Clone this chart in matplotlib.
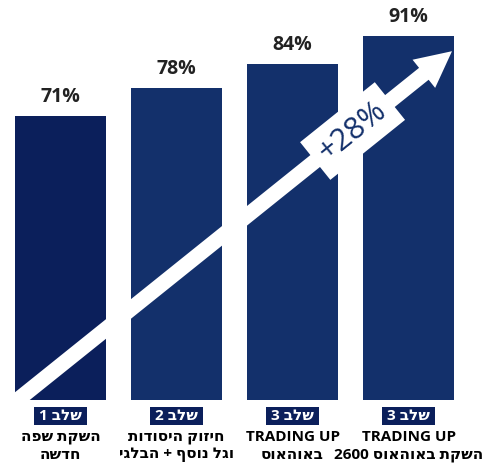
"""Stage-by-stage bar chart with a rising arrow (out.png)."""

import re
import numpy as np
import matplotlib
matplotlib.use("Agg")
import matplotlib.pyplot as plt

NAVY = "#13306b"
NAVY_DARK = "#0b1f5b"
TXT = "#222222"
FONT = ["Open Sans", "DejaVu Sans"]

# data
stages = ["שלב 1", "שלב 2", "שלב 3", "שלב 3"]
line1 = ["השקת שפה", "חיזוק היסודות", "TRADING UP", "TRADING UP"]
line2 = ["חדשה", "וגל נוסף + הבלגי", "באוהאוס", "השקת באוהאוס 2600"]
values = [71, 78, 84, 91]
growth_label = "+28%"


def rtl(s):
    # matplotlib has no bidi: put Hebrew text into visual order
    if not re.search(r"[\u0590-\u05FF]", s):
        return s
    tokens = re.findall(r"[A-Za-z0-9][A-Za-z0-9 ]*[A-Za-z0-9]|[A-Za-z0-9]|[\u0590-\u05FF]+|.", s)
    out = []
    for t in reversed(tokens):
        out.append(t[::-1] if re.match(r"[\u0590-\u05FF]", t) else t)
    return "".join(out)


fig = plt.figure(figsize=(5.02, 4.63), dpi=100)
ax = fig.add_axes([0, 0, 1, 1])
ax.set_xlim(-0.5216, 3.806)
ax.set_ylim(-15.75, 100)
ax.axis("off")

x = np.arange(len(values))
colors = [NAVY_DARK] + [NAVY] * (len(values) - 1)
ax.bar(x, values, width=0.785, color=colors, zorder=1)

for xi, v in zip(x, values):
    ax.text(xi, v + 4.7, f"{v}%", ha="center", va="center", fontsize=14,
            fontweight="bold", color=TXT, family=FONT)

for xi, st, l1, l2 in zip(x, stages, line1, line2):
    ax.text(xi, -4.0, " " + rtl(st) + " ", ha="center", va="center", fontsize=11,
            fontweight="bold", color="white", family=FONT,
            bbox=dict(boxstyle="square,pad=0.1", fc=NAVY_DARK, ec="none"))
    ax.text(xi, -9.3, rtl(l1), ha="center", va="center", fontsize=11,
            fontweight="bold", color="black", family=FONT)
    ax.text(xi, -13.8, rtl(l2), ha="center", va="center", fontsize=11,
            fontweight="bold", color="black", family=FONT)

# rising arrow across the bars
tail = (-0.435, -1.5)
tip = (3.375, 87.2)
ax.annotate("", xy=tip, xytext=tail,
            arrowprops=dict(arrowstyle="simple,head_length=2.6,head_width=2.6,tail_width=1.1",
                            mutation_scale=10, color="white", lw=0,
                            shrinkA=0, shrinkB=0), zorder=3)

p0 = ax.transData.transform(tail)
p1 = ax.transData.transform(tip)
angle = np.degrees(np.arctan2(p1[1] - p0[1], p1[0] - p0[0]))
t = 0.775
lx = tail[0] + t * (tip[0] - tail[0])
ly = tail[1] + t * (tip[1] - tail[1])
ax.text(lx, ly, growth_label, ha="center", va="center", rotation=angle,
        rotation_mode="anchor", fontsize=22, color=NAVY, family=FONT, zorder=4,
        bbox=dict(boxstyle="square,pad=0.3", fc="white", ec="none"))

fig.savefig("out.png", dpi=100, facecolor="white")
